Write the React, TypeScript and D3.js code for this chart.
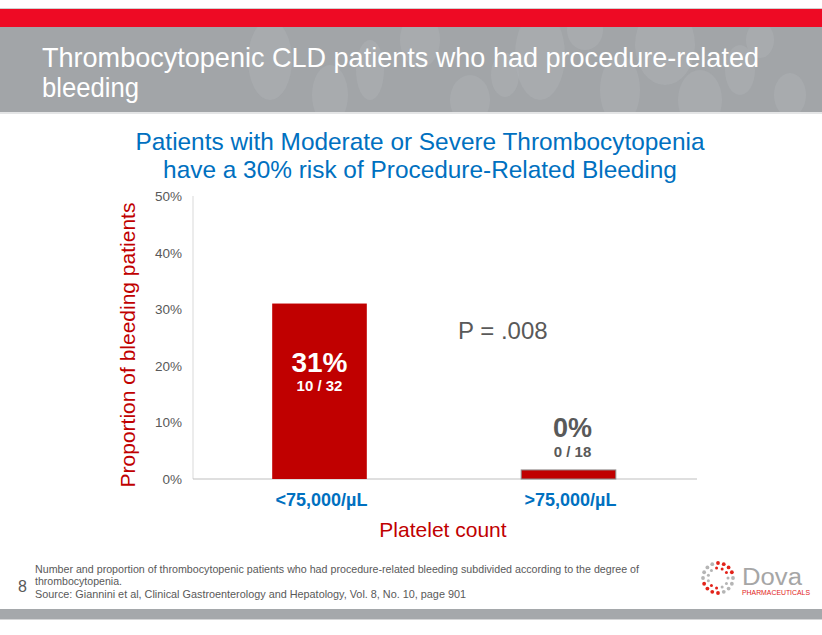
import React from "react";
import * as d3 from "d3";

const categories = ["<75,000/µL", ">75,000/µL"];
const values = [0.31, 0.016];
const pctLabels = ["31%", "0%"];
const ratioLabels = ["10 / 32", "0 / 18"];
const yTicks = [0, 0.1, 0.2, 0.3, 0.4, 0.5];

const titleLines = ["Thrombocytopenic CLD patients who had procedure-related", "bleeding"];
const subtitleLines = [
  "Patients with Moderate or Severe Thrombocytopenia",
  "have a 30% risk of Procedure-Related Bleeding",
];
const footLines = [
  "Number and proportion of thrombocytopenic patients who had procedure-related bleeding subdivided according to the degree of",
  "thrombocytopenia.",
  "Source:  Giannini et al, Clinical Gastroenterology and  Hepatology, Vol. 8, No. 10, page 901",
];

// decorative header bubbles [cx, cy, rx, ry]
const bubbles: [number, number, number, number][] = [
  [270, 60, 22, 40], [330, 95, 18, 30], [420, 40, 20, 28], [470, 100, 20, 25],
  [540, 55, 25, 45], [585, 30, 18, 20], [620, 90, 20, 35], [665, 45, 30, 40],
  [700, 100, 22, 30], [740, 70, 15, 25], [760, 40, 14, 18], [790, 95, 16, 22],
  [505, 75, 14, 22], [370, 70, 14, 30],
];

const FONT = "'Liberation Sans', Arial, Helvetica, sans-serif";

export default function App() {
  const W = 822, H = 635;
  const y = d3.scaleLinear().domain([0, 0.5]).range([479, 196]);
  const x = d3.scaleBand<string>().domain(categories).range([195, 693]).paddingInner(0.62).paddingOuter(0.31);
  const fmt = d3.format(".0%");
  const grayText = "#595959";
  const red = "#C00000";
  const blue = "#0070C0";

  const ringDots: { cx: number; cy: number; r: number; c: string }[] = [];
  const lc = [718, 578];
  [15, 10].forEach((rad, ri) => {
    const n = ri === 0 ? 16 : 11;
    for (let i = 0; i < n; i++) {
      const a = (i / n) * Math.PI * 2;
      const deg = ((a * 180) / Math.PI) % 360;
      const isRed = (deg > 250 && deg < 340) || (deg > 70 && deg < 160);
      ringDots.push({
        cx: lc[0] + rad * Math.cos(a),
        cy: lc[1] + rad * Math.sin(a),
        r: ri === 0 ? 1.9 : 1.5,
        c: isRed ? "#E2231A" : "#B5B5B5",
      });
    }
  });

  const footLens = [604, 87, 431];

  return (
    <svg width={W} height={H} style={{ position: "absolute", left: 0, top: 0 }} fontFamily={FONT}>
      <rect x={0} y={0} width={W} height={H} fill="#fff" />
      {/* header */}
      <rect x={0} y={8} width={W} height={1} fill="#d0d0d0" />
      <rect x={0} y={9} width={W} height={18} fill="#EE0A24" />
      <rect x={0} y={27} width={W} height={85} fill="#A2A5A8" />
      <g clipPath="url(#hdr)">
        <clipPath id="hdr"><rect x={0} y={27} width={W} height={85} /></clipPath>
        {bubbles.map((b, i) => (
          <ellipse key={i} cx={b[0]} cy={b[1]} rx={b[2]} ry={b[3]} fill="#ACAFB2" opacity={0.6} />
        ))}
      </g>
      <rect x={0} y={112} width={W} height={2} fill="#E4E5E6" />
      {titleLines.map((t, i) => (
        <text key={i} x={42} y={67 + i * 30} fontSize={28} fill="#fff" textLength={i === 0 ? 717 : 97} lengthAdjust="spacingAndGlyphs">
          {t}
        </text>
      ))}
      {/* subtitle */}
      {subtitleLines.map((t, i) => (
        <text key={i} x={420} y={150 + i * 28} fontSize={24.4} fill={blue} textAnchor="middle">
          {t}
        </text>
      ))}
      {/* axes */}
      <line x1={193} x2={193} y1={y(0.5)} y2={y(0)} stroke="#D9D9D9" strokeWidth={1} />
      <line x1={193} x2={697} y1={y(0)} y2={y(0)} stroke="#BFBFBF" strokeWidth={1} />
      {yTicks.map((t) => (
        <text key={t} x={182} y={y(t) + 5} fontSize={13.5} fill={grayText} textAnchor="end">
          {fmt(t)}
        </text>
      ))}
      {/* bars */}
      {categories.map((c, i) => (
        <rect
          key={c}
          x={x(c)}
          y={y(values[i])}
          width={x.bandwidth()}
          height={y(0) - y(values[i])}
          fill={red}
          stroke={i === 1 ? "#8C8C8C" : "none"}
          strokeWidth={1}
        />
      ))}
      {/* bar labels */}
      <text x={(x(categories[0]) as number) + x.bandwidth() / 2} y={372} fontSize={28} fontWeight="bold" fill="#fff" textAnchor="middle">
        {pctLabels[0]}
      </text>
      <text x={(x(categories[0]) as number) + x.bandwidth() / 2} y={391} fontSize={15} fontWeight="bold" fill="#fff" textAnchor="middle">
        {ratioLabels[0]}
      </text>
      <text x={(x(categories[1]) as number) + x.bandwidth() / 2 + 4} y={437} fontSize={27} fontWeight="bold" fill={grayText} textAnchor="middle">
        {pctLabels[1]}
      </text>
      <text x={(x(categories[1]) as number) + x.bandwidth() / 2 + 4} y={457} fontSize={15} fontWeight="bold" fill={grayText} textAnchor="middle">
        {ratioLabels[1]}
      </text>
      <text x={458} y={339} fontSize={24} fill={grayText}>P = .008</text>
      {/* category labels */}
      {categories.map((c) => (
        <text key={c} x={(x(c) as number) + x.bandwidth() / 2 + 2} y={506} fontSize={18} fontWeight="bold" fill={blue} textAnchor="middle">
          {c}
        </text>
      ))}
      <text x={443} y={537} fontSize={21} fill={red} textAnchor="middle">Platelet count</text>
      <text transform="translate(135,345) rotate(-90)" fontSize={21} fill={red} textAnchor="middle">
        Proportion of bleeding patients
      </text>
      {/* footer */}
      <text x={18} y={592} fontSize={16} fill={grayText}>8</text>
      {footLines.map((t, i) => (
        <text key={i} x={35} y={573 + i * 12.3} fontSize={10.5} fill={grayText} textLength={footLens[i]} lengthAdjust="spacingAndGlyphs">
          {t}
        </text>
      ))}
      <rect x={0} y={609} width={W} height={10} fill="#A5A8AB" />
      <rect x={0} y={619} width={W} height={1} fill="#D5D6D7" />
      {/* logo */}
      {ringDots.map((d, i) => (
        <circle key={i} cx={d.cx} cy={d.cy} r={d.r} fill={d.c} />
      ))}
      <text x={742} y={585} fontSize={23} fill="#A6A6A6" textLength={60} lengthAdjust="spacingAndGlyphs">Dova</text>
      <text x={742} y={594.5} fontSize={6.5} fill="#E2231A" textLength={68} lengthAdjust="spacingAndGlyphs">PHARMACEUTICALS</text>
    </svg>
  );
}
